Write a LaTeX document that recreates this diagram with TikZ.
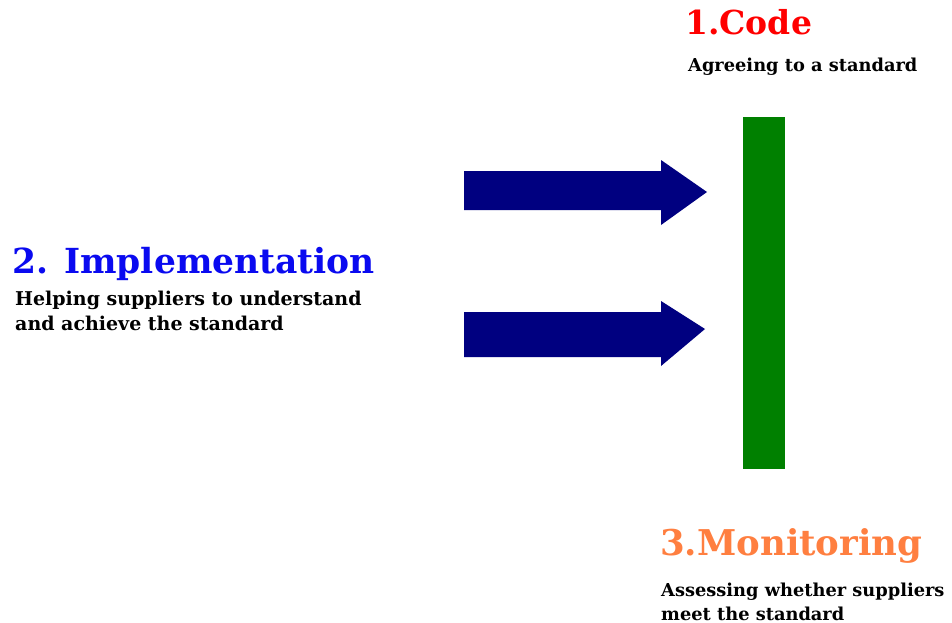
\documentclass[tikz,border=0pt]{standalone}
\usepackage{fontspec}
\setmainfont{DejaVu Serif}
\definecolor{navyarrow}{HTML}{000080}
\definecolor{barcol}{HTML}{008000}
\definecolor{codecol}{HTML}{FF0000}
\definecolor{implcol}{HTML}{0A0AF0}
\definecolor{moncol}{HTML}{FF7F40}
\begin{document}
\begin{tikzpicture}[x=1pt,y=-1pt,
  title/.style={anchor=base west,inner sep=0pt,font=\bfseries\fontsize{34.5}{40}\selectfont},
  body/.style={anchor=base west,inner sep=0pt,font=\bfseries\fontsize{17.8}{22}\selectfont},
  bodybig/.style={anchor=base west,inner sep=0pt,font=\bfseries\fontsize{19}{22}\selectfont},
  arrowshape/.style={fill=navyarrow,draw=none}]
\useasboundingbox[fill=white] (0,0) rectangle (952,623);
% green bar
\fill[barcol] (743,117) rectangle (785,469);
% arrows
\fill[arrowshape] (464,171) -- (661,171) -- (661,160) -- (707,192) -- (661,225) -- (661,210) -- (464,210) -- cycle;
\fill[arrowshape] (464,312) -- (661,312) -- (661,301) -- (705,329) -- (661,366) -- (661,357) -- (464,357) -- cycle;
% texts
\node[title,text=codecol,font=\bfseries\fontsize{33}{40}\selectfont] (code) at (685,35) {1.Code};
\node[body] (codesub) at (688,72) {Agreeing to a standard};
\node[title,text=implcol] (impl) at (12,273) {2. Implementation};
\node[bodybig] (impl1) at (15,305) {Helping suppliers to understand};
\node[bodybig] (impl2) at (15,330) {and achieve the standard};
\node[title,text=moncol,font=\bfseries\fontsize{35.5}{40}\selectfont] (mon) at (660,555) {3.Monitoring};
\node[body] (mon1) at (661,596) {Assessing whether suppliers};
\node[body] (mon2) at (661,620) {meet the standard};
\end{tikzpicture}
\end{document}
